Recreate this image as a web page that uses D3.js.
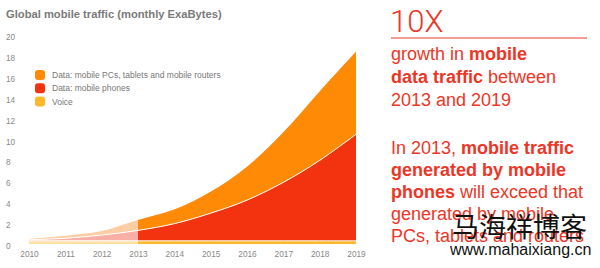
<!DOCTYPE html>
<html><head><meta charset="utf-8">
<script src="https://cdn.jsdelivr.net/npm/d3@7"></script>
<style>body{margin:0;background:#fff}svg{display:block}</style>
</head><body>
<svg id="c" width="600" height="268"></svg>
<script>
const years = [2010,2011,2012,2013,2014,2015,2016,2017,2018,2019];
const voice = [0.3,0.3,0.3,0.3,0.3,0.3,0.3,0.3,0.3,0.3];
const phonesTop = [0.4,0.55,0.85,1.3,1.95,2.95,4.2,5.9,8.0,10.5];
const totalTop = [0.5,0.8,1.25,2.3,3.3,5.0,7.4,10.7,14.6,18.4];
const yTicks = [0,2,4,6,8,10,12,14,16,18,20];
const xTicks = years;
const legendLabels = ["Data: mobile PCs, tablets and mobile routers","Data: mobile phones","Voice"];

const table = years.map((yr,i)=>({year:yr, voice:voice[i], phones:phonesTop[i]-voice[i], pcs:totalTop[i]-phonesTop[i]}));
const keys = ["voice","phones","pcs"];
const full = {voice:"#FDB92A", phones:"#F3330F", pcs:"#FF8A05"};
const faded = {voice:"#FDE2A3", phones:"#F9AEA6", pcs:"#FDCEA4"};

const svg = d3.select("#c");
const x = d3.scaleLinear().domain([2010,2019]).range([29,356]);
const y = d3.scaleLinear().domain([0,20]).range([244,35.1]);

const series = d3.stack().keys(keys)(table);
const curve = d3.curveCatmullRom.alpha(0.5);
const area = d3.area().x(d=>x(d.data.year)).y0(d=>y(d[0])).y1(d=>y(d[1])).curve(curve);
const topLine = d3.line().x(d=>x(d.data.year)).y(d=>y(d[1])).curve(curve);

svg.append("defs").append("clipPath").attr("id","after")
  .append("rect").attr("x",x(2013)).attr("y",0).attr("width",600).attr("height",268);

const gF = svg.append("g");
gF.selectAll("path").data(series).join("path").attr("d",area).attr("fill",d=>faded[d.key]);
const gA = svg.append("g").attr("clip-path","url(#after)");
gA.selectAll("path").data(series).join("path").attr("d",area).attr("fill",d=>full[d.key]);
svg.append("g").selectAll("path").data(series.slice(0,2)).join("path")
  .attr("d",topLine).attr("fill","none").attr("stroke","#fff").attr("stroke-width",1);

const ff = "Liberation Sans, Arial, sans-serif";
// title
svg.append("text").attr("x",6).attr("y",18).attr("font-family",ff)
  .attr("font-size",11.2).attr("font-weight","bold").attr("fill","#7a7a7a")
  .text("Global mobile traffic (monthly ExaBytes)");

// axes
const ya = svg.append("g").call(d3.axisLeft(y).tickValues(yTicks).tickSize(0));
ya.select(".domain").remove();
ya.selectAll("text").attr("x",6).attr("dy","0.55em").attr("text-anchor","start")
  .attr("font-family",ff).attr("font-size",8.2).attr("fill","#888");
const xa = svg.append("g").attr("transform","translate(0,248)").call(d3.axisBottom(x).tickValues(xTicks).tickFormat(d3.format("d")).tickSize(0));
xa.select(".domain").remove();
xa.selectAll("text").attr("dy","0.71em").attr("font-family",ff).attr("font-size",8.3).attr("fill","#888");

// legend
const legColors = [full.pcs, full.phones, full.voice];
const lg = svg.append("g");
legendLabels.forEach((t,i)=>{
  const cy = 75 + i*13.3;
  lg.append("rect").attr("x",35).attr("y",cy-5).attr("width",10).attr("height",10).attr("rx",3).attr("fill",legColors[i]);
  lg.append("text").attr("x",52).attr("y",cy+3).attr("font-family",ff)
    .attr("font-size",8.5).attr("fill","#777").text(t);
});

// right text
const red = "#EE3526";
svg.append("text").attr("x",390).attr("y",32).attr("font-family","Roboto, Liberation Sans, sans-serif").attr("font-size",31)
  .attr("font-weight",300).attr("fill",red).text("10X");
svg.append("line").attr("x1",391).attr("x2",587).attr("y1",38).attr("y2",38).attr("stroke",red).attr("stroke-width",1);

function rich(lines, x0, y0, lh, fs){
  lines.forEach((parts,i)=>{
    const t = svg.append("text").attr("x",x0).attr("y",y0+i*lh).attr("font-family",ff).attr("font-size",fs).attr("fill",red);
    parts.forEach(p=>t.append("tspan").attr("font-weight",p[1]?"bold":"normal").text(p[0]));
  });
}
rich([[["growth in ",0],["mobile",1]],[["data traffic",1],[" between",0]],[["2013 and 2019",0]]],391,60,23,18);
rich([[["In 2013, ",0],["mobile traffic",1]],[["generated by mobile",1]],[["phones",1],[" will exceed that",0]],[["generated by mobile",0]],[["PCs, tablets and routers",0]]],391,154,22,18);

// watermark
svg.append("text").attr("x",452).attr("y",237).attr("font-family","Noto Sans CJK SC, sans-serif")
  .attr("font-size",27).attr("fill","#111").text("马海祥博客");
svg.append("text").attr("x",450).attr("y",255).attr("font-family",ff)
  .attr("font-size",16).attr("fill","#111").text("www.mahaixiang.cn");
</script>
</body></html>
